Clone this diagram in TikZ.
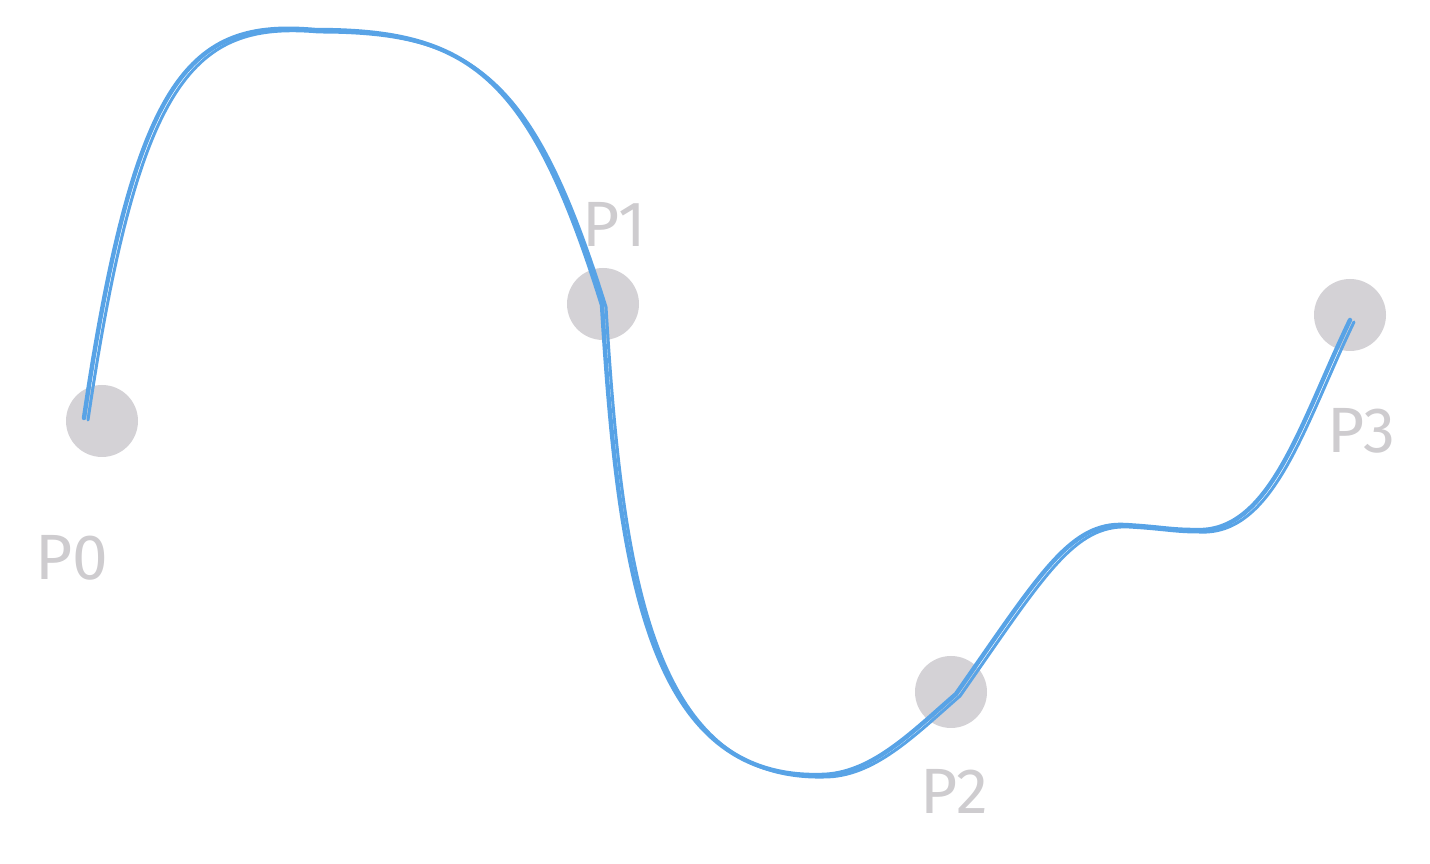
\documentclass[tikz,border=0pt]{standalone}
\usepackage{fontspec}
\setmainfont{Fira Sans}
\usepackage{tikz}
\usetikzlibrary{positioning}

\definecolor{trailblue}{RGB}{88,163,230}
\definecolor{blobgray}{RGB}{212,210,214}
\definecolor{labelgray}{RGB}{206,204,207}

\tikzset{
  blob/.style={circle, fill=blobgray, minimum size=72pt, inner sep=0pt},
  plabel/.style={text=labelgray, font=\fontsize{64}{68}\selectfont},
  trail/.style={draw=trailblue, line cap=round, line join=round}
}

\begin{document}
\begin{tikzpicture}[x=1pt, y=1pt]

  \useasboundingbox (0,0) rectangle (1430,864);

  \newcommand\Trace{(s0) .. controls (135,790) and (190,845) .. (top)
    .. controls (470,834) and (530,790) .. (s1)
    .. controls (618,300) and (645,85) .. (bot)
    .. controls (870,89) and (910,130) .. (s2)
    .. controls (1040,290) and (1070,342) .. (mid)
    .. controls (1160,337) and (1170,334) .. (flat)
    .. controls (1270,330) and (1300,440) .. (s3)};

  \node[blob] (p0) at (102,443) {};
  \node[blob] (p1) at (603,560) {};
  \node[blob] (p2) at (951,172) {};
  \node[blob] (p3) at (1350,549) {};

  \node[plabel] (lp0) at (72,306) {P0};
  \node[plabel] (lp1) at (614,640) {P1};
  \node[plabel] (lp2) at (954,73) {P2};
  \node[plabel] (lp3) at (1361,433) {P3};

  \coordinate (s0) at (84,446);
  \coordinate (top) at (315,834);
  \coordinate (s1) at (602,559);
  \coordinate (bot) at (820,89);
  \coordinate (s2) at (956,170);
  \coordinate (mid) at (1125,339);
  \coordinate (flat) at (1195,334);
  \coordinate (s3) at (1350,544);

  \foreach \dx/\dy/\w in {0/0/4.4, 4/-2/3}
    \draw[trail, line width=\w pt, transform canvas={shift={(\dx pt,\dy pt)}}] \Trace;

\end{tikzpicture}
\end{document}
